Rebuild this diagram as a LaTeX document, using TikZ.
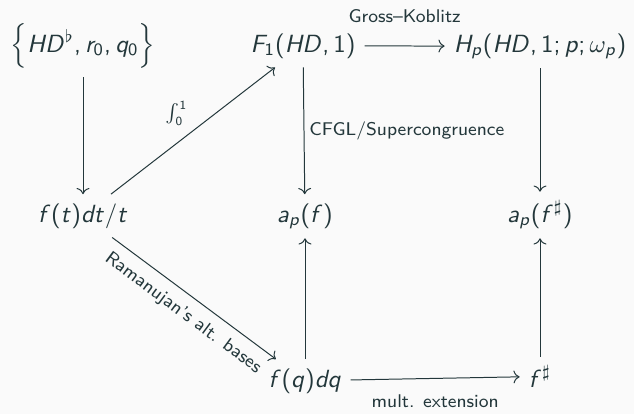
\documentclass[tikz,border=0pt]{standalone}
\usepackage{amsmath,amssymb}
\usepackage{xcolor}
\usetikzlibrary{arrows.meta,positioning}
\renewcommand{\familydefault}{\sfdefault}
% letras y cifras de la matematica en sans
\DeclareSymbolFont{sfletras}{OT1}{cmss}{m}{sl}
\DeclareSymbolFont{sfrectas}{OT1}{cmss}{m}{n}
\DeclareMathSymbol{a}{\mathalpha}{sfletras}{`a}
\DeclareMathSymbol{d}{\mathalpha}{sfletras}{`d}
\DeclareMathSymbol{f}{\mathalpha}{sfletras}{`f}
\DeclareMathSymbol{p}{\mathalpha}{sfletras}{`p}
\DeclareMathSymbol{q}{\mathalpha}{sfletras}{`q}
\DeclareMathSymbol{r}{\mathalpha}{sfletras}{`r}
\DeclareMathSymbol{t}{\mathalpha}{sfletras}{`t}
\DeclareMathSymbol{D}{\mathalpha}{sfletras}{`D}
\DeclareMathSymbol{F}{\mathalpha}{sfletras}{`F}
\DeclareMathSymbol{H}{\mathalpha}{sfletras}{`H}
\DeclareMathSymbol{0}{\mathalpha}{sfrectas}{`0}
\DeclareMathSymbol{1}{\mathalpha}{sfrectas}{`1}
\DeclareMathSymbol{(}{\mathopen}{sfrectas}{`(}
\DeclareMathSymbol{)}{\mathclose}{sfrectas}{`)}
\DeclareMathSymbol{,}{\mathpunct}{sfrectas}{`,}
\DeclareMathSymbol{;}{\mathpunct}{sfrectas}{`;}
\DeclareMathSymbol{/}{\mathord}{sfrectas}{`/}
\definecolor{pizarra}{HTML}{23373B}
\definecolor{fondo}{HTML}{FAFAFA}
\tikzset{
  objeto/.style={anchor=base,inner sep=3.5pt,text=pizarra},
  flecha/.style={-{Computer Modern Rightarrow},draw=pizarra,thin},
  etiqueta/.style={font=\fontsize{7.4}{9}\selectfont,text=pizarra,inner sep=2pt}
}

\begin{document}
\begin{tikzpicture}[x=0.01413cm,y=-0.01413cm]
\fill[fondo] (0,0) rectangle (634,414);
\useasboundingbox (0,0) rectangle (634,414);
% fila superior
\node[objeto] (hd) at (83,52) {$\Big\{HD^{\flat},r_0,q_0\Big\}$};
\node[objeto] (F1) at (303,52) {$F_1(HD,1)$};
\node[objeto] (Hp) at (540,52) {$H_p(HD,1;p;\omega_p)$};
% fila media
\node[objeto] (ft) at (83,222) {$f(t)dt/t$};
\node[objeto] (apf) at (305,222) {$a_p(f)$};
\node[objeto] (apfs) at (540,222) {$a_p(f^{\sharp})$};
% fila inferior
\node[objeto] (fq) at (305,387) {$f(q)dq$};
\node[objeto] (fs) at (540,387) {$f^{\sharp}$};
% flechas
\draw[flecha] (hd) -- (ft);
\draw[flecha] (ft) -- node[etiqueta,above left] {$\int_0^1$} (F1);
\draw[flecha] (F1) -- node[etiqueta,above=7pt] {Gross–Koblitz} (Hp);
\draw[flecha] (F1) -- node[etiqueta,right] {CFGL/Supercongruence} (apf);
\draw[flecha] (Hp) -- (apfs);
\draw[flecha] (ft) -- node[etiqueta,below=2pt,sloped] {Ramanujan's alt. bases} (fq);
\draw[flecha] (fq) -- (apf);
\draw[flecha] (fs) -- (apfs);
\draw[flecha] (fq) -- node[etiqueta,below=4.5pt] {mult. extension} (fs);
\end{tikzpicture}
\end{document}
